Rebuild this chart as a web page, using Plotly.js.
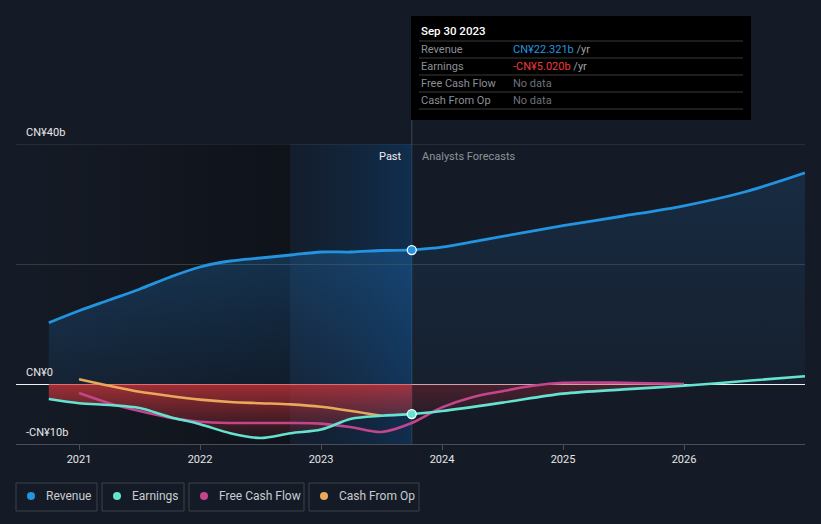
<!DOCTYPE html>
<html>
<head>
<meta charset="utf-8">
<script src="https://cdn.plot.ly/plotly-3.0.1.min.js"></script>
<style>
  html, body { margin: 0; padding: 0; background: #151b26; }
  #chart { width: 821px; height: 524px; }
</style>
</head>
<body>
<div id="chart"></div>
<script>
// ---- Data (CN¥ billions, decimal years) ----
const revenuePastYears = [2020.75, 2021.0, 2021.25, 2021.5, 2021.75, 2022.0, 2022.25, 2022.5, 2022.75, 2023.0, 2023.25, 2023.5, 2023.75];
const revenuePast      = [10.2, 12.2, 14.0, 15.8, 17.8, 19.5, 20.5, 21.0, 21.5, 22.0, 22.0, 22.25, 22.321];
const revenueFcYears   = [2023.75, 2024.0, 2024.25, 2024.5, 2025.0, 2025.5, 2026.0, 2026.5, 2027.0];
const revenueFc        = [22.321, 22.8, 23.7, 24.6, 26.4, 28.0, 29.7, 32.0, 35.2];

const earningsPastYears = [2020.75, 2021.0, 2021.25, 2021.5, 2021.75, 2022.0, 2022.25, 2022.5, 2022.75, 2023.0, 2023.25, 2023.5, 2023.75];
const earningsPast      = [-2.5, -3.2, -3.5, -4.0, -5.5, -6.7, -8.2, -9.0, -8.2, -7.6, -5.8, -5.3, -5.02];
const earningsFcYears   = [2023.75, 2024.0, 2024.5, 2025.0, 2025.5, 2026.0, 2026.5, 2027.0];
const earningsFc        = [-5.02, -4.5, -3.1, -1.6, -0.9, -0.3, 0.5, 1.3];

const fcfYears = [2021.0, 2021.25, 2021.5, 2021.75, 2022.0, 2022.25, 2022.5, 2022.75, 2023.0, 2023.25, 2023.5, 2023.75, 2024.0, 2024.25, 2024.5, 2024.75, 2025.0, 2025.5, 2026.0];
const fcf      = [-1.5, -3.2, -4.5, -5.6, -6.3, -6.5, -6.5, -6.5, -6.6, -7.2, -8.0, -6.5, -3.9, -2.2, -1.2, -0.3, 0.2, 0.2, 0.0];

const cfoYears = [2021.0, 2021.25, 2021.5, 2021.75, 2022.0, 2022.25, 2022.5, 2022.75, 2023.0, 2023.25, 2023.5];
const cfo      = [0.8, -0.3, -1.3, -2.0, -2.6, -3.0, -3.2, -3.4, -3.8, -4.5, -5.3];

const tickYears = [2021, 2022, 2023, 2024, 2025, 2026];
const tickLabels = ['2021', '2022', '2023', '2024', '2025', '2026'];
const gridValues = [-10, 0, 20, 40];
const yLabelValues = [40, 0, -10];
const yLabelTexts = ['CN¥40b', 'CN¥0', '-CN¥10b'];

const pastStart = 2022.744;
const nowYear = 2023.75;

const seriesNames = ['Revenue', 'Earnings', 'Free Cash Flow', 'Cash From Op'];
const seriesColors = ['#2394df', '#63e3d0', '#c4458c', '#e8a95a'];

const tooltipTitle = 'Sep 30 2023';
const tooltipRows = [
  ['Revenue', 'CN¥22.321b', '#2394df'],
  ['Earnings', '-CN¥5.020b', '#f03a3a'],
  ['Free Cash Flow', 'No data', null],
  ['Cash From Op', 'No data', null]
];

// ---- Geometry helpers ----
const W = 821, H = 524;
const M = {l: 16, r: 16, t: 144, b: 80};
const PW = W - M.l - M.r, PH = H - M.t - M.b;
const px = x => (x - M.l) / PW;
const py = y => (H - M.b - y) / PH;

const FONT = 'Roboto, "Open Sans", Arial, sans-serif';

function grad(stops, dir) {
  const x2 = dir === 'h' ? '1' : '0', y2 = dir === 'h' ? '0' : '1';
  const st = stops.map(s => `<stop offset="${s[0]}" stop-color="${s[1]}" stop-opacity="${s[2]}"/>`).join('');
  const svg = `<svg xmlns="http://www.w3.org/2000/svg" width="100" height="100" viewBox="0 0 100 100" preserveAspectRatio="none"><defs><linearGradient id="g" x1="0" y1="0" x2="${x2}" y2="${y2}">${st}</linearGradient></defs><rect x="0" y="0" width="100" height="100" fill="url(#g)"/></svg>`;
  return 'data:image/svg+xml;charset=utf-8,' + encodeURIComponent(svg);
}

// ---- Traces ----
const sm = 0.9;
const traces = [];

// Revenue fills
traces.push({
  x: revenuePastYears, y: revenuePast, type: 'scatter', mode: 'lines',
  line: {width: 0, shape: 'spline', smoothing: sm}, fill: 'tozeroy',
  fillgradient: {type: 'vertical', start: 0, stop: 24, colorscale: [[0, 'rgba(35,120,200,0.10)'], [1, 'rgba(35,130,210,0.30)']]},
  hoverinfo: 'skip', showlegend: false
});
traces.push({
  x: revenueFcYears, y: revenueFc, type: 'scatter', mode: 'lines',
  line: {width: 0, shape: 'spline', smoothing: sm}, fill: 'tozeroy',
  fillgradient: {type: 'vertical', start: 0, stop: 36, colorscale: [[0, 'rgba(35,110,180,0.06)'], [1, 'rgba(35,120,200,0.18)']]},
  hoverinfo: 'skip', showlegend: false
});
// Earnings fills (negative area)
traces.push({
  x: earningsPastYears, y: earningsPast, type: 'scatter', mode: 'lines',
  line: {width: 0, shape: 'spline', smoothing: sm}, fill: 'tozeroy',
  fillgradient: {type: 'vertical', start: -9, stop: 0, colorscale: [[0, 'rgba(190,45,55,0.10)'], [1, 'rgba(215,55,60,0.72)']]},
  hoverinfo: 'skip', showlegend: false
});
traces.push({
  x: earningsFcYears.slice(0, 6), y: earningsFc.slice(0, 6), type: 'scatter', mode: 'lines',
  line: {width: 0, shape: 'spline', smoothing: sm}, fill: 'tozeroy',
  fillgradient: {type: 'vertical', start: -6, stop: 0, colorscale: [[0, 'rgba(150,40,55,0.10)'], [1, 'rgba(150,40,55,0.40)']]},
  hoverinfo: 'skip', showlegend: false
});

// Lines
traces.push({x: cfoYears, y: cfo, type: 'scatter', mode: 'lines',
  line: {color: seriesColors[3], width: 2.6, shape: 'spline', smoothing: sm}, hoverinfo: 'skip', showlegend: false});
traces.push({x: fcfYears, y: fcf, type: 'scatter', mode: 'lines',
  line: {color: seriesColors[2], width: 2.6, shape: 'spline', smoothing: sm}, hoverinfo: 'skip', showlegend: false});
traces.push({x: earningsPastYears, y: earningsPast, type: 'scatter', mode: 'lines',
  line: {color: seriesColors[1], width: 2.6, shape: 'spline', smoothing: sm}, hoverinfo: 'skip', showlegend: false});
traces.push({x: earningsFcYears, y: earningsFc, type: 'scatter', mode: 'lines',
  line: {color: seriesColors[1], width: 2.6, shape: 'spline', smoothing: sm}, hoverinfo: 'skip', showlegend: false});
traces.push({x: revenuePastYears, y: revenuePast, type: 'scatter', mode: 'lines',
  line: {color: seriesColors[0], width: 2.8, shape: 'spline', smoothing: sm}, hoverinfo: 'skip', showlegend: false});
traces.push({x: revenueFcYears, y: revenueFc, type: 'scatter', mode: 'lines',
  line: {color: seriesColors[0], width: 2.8, shape: 'spline', smoothing: sm}, hoverinfo: 'skip', showlegend: false});

// Markers at "now"
traces.push({
  x: [revenuePastYears[revenuePastYears.length - 1], earningsPastYears[earningsPastYears.length - 1]],
  y: [revenuePast[revenuePast.length - 1], earningsPast[earningsPast.length - 1]],
  type: 'scatter', mode: 'markers',
  marker: {size: 9, color: [seriesColors[0], seriesColors[1]], line: {color: '#ffffff', width: 1.3}},
  hoverinfo: 'skip', showlegend: false
});

// ---- Shapes & annotations ----
const shapes = [];
const annotations = [];

// top gridline (edge of range)
shapes.push({type: 'line', xref: 'paper', yref: 'y', x0: 0, x1: 1, y0: gridValues[3], y1: gridValues[3],
  line: {color: '#3b4048', width: 1}, layer: 'below'});

// vertical "now" line
shapes.push({type: 'line', xref: 'x', yref: 'paper', x0: nowYear, x1: nowYear, y0: 0, y1: py(16),
  line: {color: 'rgba(120,150,180,0.35)', width: 1}, layer: 'below'});

// tooltip box
shapes.push({type: 'rect', xref: 'paper', yref: 'paper', x0: px(411), x1: px(751), y0: py(120), y1: py(16),
  fillcolor: '#000000', line: {width: 0}});
[41, 58, 75, 92, 109].forEach(yy => {
  shapes.push({type: 'line', xref: 'paper', yref: 'paper', x0: px(419), x1: px(743), y0: py(yy), y1: py(yy),
    line: {color: '#3a3a3a', width: 1}});
});
annotations.push({xref: 'paper', yref: 'paper', x: px(419), y: py(31), xanchor: 'left', yanchor: 'middle',
  text: tooltipTitle, showarrow: false, font: {family: FONT, size: 11.5, color: '#ffffff', weight: 500}});
tooltipRows.forEach((r, i) => {
  const yy = 49 + i * 17.3;
  annotations.push({xref: 'paper', yref: 'paper', x: px(419), y: py(yy), xanchor: 'left', yanchor: 'middle',
    text: r[0], showarrow: false, font: {family: FONT, size: 11, color: '#8a8f96'}});
  const val = r[2] ? `<span style="color:${r[2]}">${r[1]}</span><span style="color:#9aa0a6"> /yr</span>` : r[1];
  annotations.push({xref: 'paper', yref: 'paper', x: px(511), y: py(yy), xanchor: 'left', yanchor: 'middle',
    text: val, showarrow: false, font: {family: FONT, size: 11, color: '#6d7278'}});
});

// Past / Forecast labels
annotations.push({xref: 'x', yref: 'paper', x: nowYear, y: py(156), xanchor: 'right', yanchor: 'middle', xshift: -8,
  text: 'Past', showarrow: false, font: {family: FONT, size: 11, color: '#eeeeee'}});
annotations.push({xref: 'x', yref: 'paper', x: nowYear, y: py(156), xanchor: 'left', yanchor: 'middle', xshift: 8,
  text: 'Analysts Forecasts', showarrow: false, font: {family: FONT, size: 11, color: '#8d9299'}});

// y labels
yLabelValues.forEach((v, i) => {
  annotations.push({xref: 'paper', yref: 'y', x: px(24), y: v, xanchor: 'left', yanchor: 'bottom', yshift: 3,
    text: yLabelTexts[i], showarrow: false, font: {family: FONT, size: 11, color: '#e8e8e8'}});
});

// legend boxes
const legendBoxes = [[16, 97], [102, 184], [189, 304], [309, 419]];
seriesNames.forEach((n, i) => {
  const [x0, x1] = legendBoxes[i];
  shapes.push({type: 'rect', xref: 'paper', yref: 'paper', x0: px(x0), x1: px(x1), y0: py(511), y1: py(483),
    fillcolor: 'rgba(0,0,0,0)', line: {color: '#3c424b', width: 1}});
  shapes.push({type: 'circle', xref: 'paper', yref: 'paper', x0: px(x0 + 11), x1: px(x0 + 19), y0: py(500), y1: py(492),
    fillcolor: seriesColors[i], line: {width: 0}});
  annotations.push({xref: 'paper', yref: 'paper', x: px(x0 + 28), y: py(496), xanchor: 'left', yanchor: 'middle',
    text: n, showarrow: false, font: {family: FONT, size: 12, color: '#c9ccd0'}});
});

// ---- Background gradient overlays ----
const images = [
  {source: grad([[0, '#000000', 0.0], [1, '#000000', 0.32]], 'h'), xref: 'x', yref: 'y',
   x: 2020.479, y: 40, sizex: pastStart - 2020.479, sizey: 50, sizing: 'stretch', xanchor: 'left', yanchor: 'top', layer: 'below'},
  {source: grad([[0, '#0e2a48', 0.2], [1, '#0e3b6a', 0.6]], 'h'), xref: 'x', yref: 'y',
   x: pastStart, y: 40, sizex: nowYear - pastStart, sizey: 50, sizing: 'stretch', xanchor: 'left', yanchor: 'top', layer: 'below'}
];

const layout = {
  width: W, height: H,
  margin: M,
  paper_bgcolor: '#151b26',
  plot_bgcolor: 'rgba(0,0,0,0)',
  showlegend: false,
  font: {family: FONT, color: '#dddddd'},
  xaxis: {
    range: [2020.479, 2027.0], tickvals: tickYears, ticktext: tickLabels,
    showgrid: false, zeroline: false, showline: true, linecolor: '#4a4f57', linewidth: 1,
    ticks: 'outside', ticklen: 5, tickcolor: '#4a4f57',
    tickfont: {family: FONT, size: 11, color: '#e6e6e6'}, fixedrange: true
  },
  yaxis: {
    range: [-10, 40], tickvals: gridValues, showticklabels: false,
    showgrid: true, gridcolor: '#363b43', gridwidth: 1,
    zeroline: true, zerolinecolor: '#f2f2f2', zerolinewidth: 1, fixedrange: true
  },
  shapes: shapes,
  annotations: annotations,
  images: images
};

Plotly.newPlot('chart', traces, layout, {displayModeBar: false, staticPlot: true});
</script>
</body>
</html>
